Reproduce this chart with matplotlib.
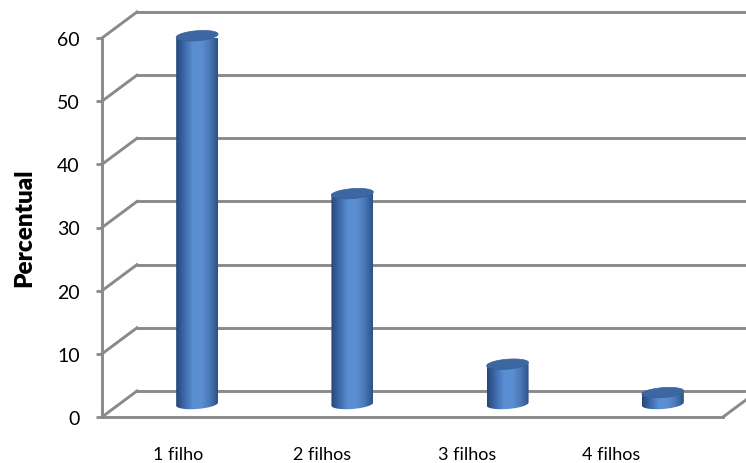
import numpy as np
import matplotlib
matplotlib.use("Agg")
import matplotlib.pyplot as plt
from matplotlib.path import Path
from matplotlib.patches import PathPatch, Polygon
from matplotlib.colors import LinearSegmentedColormap

categorias = ["1 filho", "2 filhos", "3 filhos", "4 filhos"]
percentual = [58.3, 33.3, 6.3, 1.8]
yticks = [0, 10, 20, 30, 40, 50, 60]

plt.rcParams['font.family'] = ['Lato', 'DejaVu Sans']

fig = plt.figure(figsize=(7.46, 4.64), dpi=100)
ax = fig.add_axes([102 / 746, 46 / 464, 621 / 746, 379 / 464])
ax.set_xlim(0, 4)
ax.set_ylim(0, 60)

cinza = "#8a8a8a"
DX, DY = 0.2254, 4.12      # profundidade da caixa 3D (em unidades dos dados)
larg, alt_el, incl = 0.27, 1.58, 0.25

# paredes: linhas de grade laterais e do fundo
for v in yticks:
    ax.plot([0, DX], [v, v + DY], color=cinza, lw=2.1, clip_on=False, zorder=1)
    ax.plot([DX, 4 + DX + 0.5], [v + DY, v + DY], color=cinza, lw=2.1,
            clip_on=False, zorder=1)
ax.plot([4, 4 + DX], [0, DY], color=cinza, lw=2.1, clip_on=False, zorder=1)

# cilindros
cmap = LinearSegmentedColormap.from_list(
    "cil", ["#26467a", "#3d6aaa", "#5a8ed2", "#5b8fd3", "#4a79b8", "#2c5288"])
grad = np.linspace(0, 1, 200).reshape(1, -1)
t_baixo = np.linspace(np.pi, 2 * np.pi, 60)
t_todo = np.linspace(0, 2 * np.pi, 120)
for i, v in enumerate(percentual):
    xc = i + 0.5 + DX / 2
    y0 = DY / 2
    xl, xr = xc - larg / 2, xc + larg / 2
    arco = np.column_stack([xc + larg / 2 * np.cos(t_baixo),
                            y0 + alt_el / 2 * np.sin(t_baixo) + incl * np.cos(t_baixo)])
    verts = np.vstack([[[xl, y0 + v]], arco, [[xr, y0 + v]], [[xl, y0 + v]]])
    corpo = PathPatch(Path(verts, closed=True), facecolor="none",
                      edgecolor="none", clip_on=False)
    ax.add_patch(corpo)
    im = ax.imshow(grad, cmap=cmap, aspect="auto", zorder=3,
                   extent=[xl, xr, y0 - alt_el, y0 + v], interpolation="bilinear")
    im.set_clip_path(corpo)
    topo = np.column_stack([xc + larg / 2 * np.cos(t_todo),
                            y0 + v + alt_el / 2 * np.sin(t_todo) + incl * np.cos(t_todo)])
    ax.add_patch(Polygon(topo, closed=True, facecolor="#3c67a2",
                         edgecolor="#38619a", lw=0.5, zorder=4, clip_on=False))

ax.set_xlim(0, 4)
ax.set_ylim(0, 60)

# eixos
for lado in ["top", "right"]:
    ax.spines[lado].set_visible(False)
ax.spines["left"].set_color(cinza)
ax.spines["left"].set_linewidth(2.1)
ax.spines["bottom"].set_color(cinza)
ax.spines["bottom"].set_linewidth(2.1)
ax.set_yticks(yticks)
ax.tick_params(axis="y", length=4, width=2, color=cinza, pad=12,
               labelsize=14, labelcolor="black")
ax.set_xticks(np.arange(4) * 0.93 + 0.49)
ax.set_xticklabels(categorias)
ax.tick_params(axis="x", length=0, pad=21, labelsize=13, labelcolor="black")

fig.text(24 / 746, 1 - 228 / 464, "Percentual", rotation=90, ha="center",
         va="center", fontsize=17.5, fontweight="heavy")

fig.savefig("out.png", dpi=100)
